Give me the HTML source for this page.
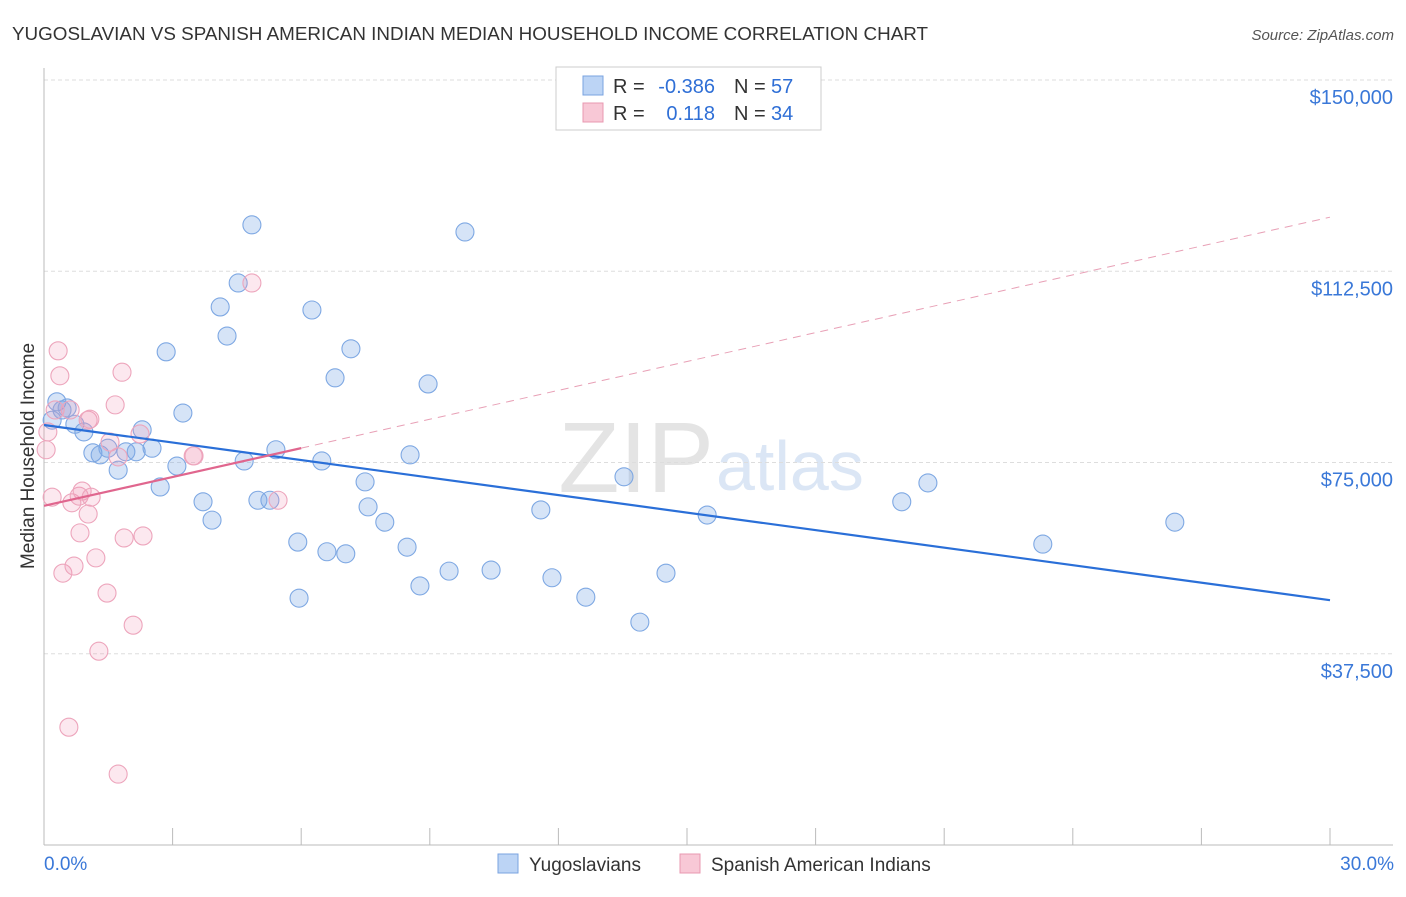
<!DOCTYPE html>
<html><head><meta charset="utf-8"><style>
body{margin:0;background:#fff;font-family:"Liberation Sans",sans-serif}
svg text{font-family:"Liberation Sans",sans-serif}
</style></head><body>
<svg id="c" width="1406" height="892" xmlns="http://www.w3.org/2000/svg">
<text x="12" y="40" font-size="18" fill="#333" textLength="916" lengthAdjust="spacingAndGlyphs">YUGOSLAVIAN VS SPANISH AMERICAN INDIAN MEDIAN HOUSEHOLD INCOME CORRELATION CHART</text>
<text x="1394" y="40" font-size="15" fill="#555" font-style="italic" text-anchor="end">Source: ZipAtlas.com</text>
<text x="714" y="492" font-size="100" fill="#e4e4e4" text-anchor="end" font-family="Liberation Serif">ZIP</text>
<text x="716" y="490" font-size="70" fill="#dbe6f5">atlas</text>
<g id="grid"></g><g id="axes"></g><g id="pts"></g><g id="trend"></g>
<text transform="translate(34,456) rotate(-90)" font-size="19" fill="#333" text-anchor="middle">Median Household Income</text>
<text x="44" y="870" font-size="19" fill="#3a78d8">0.0%</text>
<text x="1394" y="870" font-size="19" fill="#3a78d8" text-anchor="end">30.0%</text>
<g>
<rect x="556" y="67" width="265" height="63" fill="#fff" stroke="#ccc"/>
<rect x="583" y="76" width="20" height="19" fill="#bcd4f5" stroke="#7aa3e0"/>
<rect x="583" y="103" width="20" height="19" fill="#f8c8d6" stroke="#e898b0"/>
<text x="613" y="93" font-size="20" fill="#333">R =</text>
<text x="715" y="93" font-size="20" fill="#2f6fd6" text-anchor="end">-0.386</text>
<text x="734" y="93" font-size="20" fill="#333">N =</text>
<text x="771" y="93" font-size="20" fill="#2f6fd6">57</text>
<text x="613" y="120" font-size="20" fill="#333">R =</text>
<text x="715" y="120" font-size="20" fill="#2f6fd6" text-anchor="end">0.118</text>
<text x="734" y="120" font-size="20" fill="#333">N =</text>
<text x="771" y="120" font-size="20" fill="#2f6fd6">34</text>
</g>
<g>
<rect x="498" y="854" width="20" height="19" fill="#bcd4f5" stroke="#7aa3e0"/>
<text x="529" y="871" font-size="19" fill="#333">Yugoslavians</text>
<rect x="680" y="854" width="20" height="19" fill="#f8c8d6" stroke="#e898b0"/>
<text x="711" y="871" font-size="19" fill="#333">Spanish American Indians</text>
</g>
</svg>
<script>
const yTicks=[37500,75000,112500,150000];
const yTickLabels=["$37,500","$75,000","$112,500","$150,000"];
const xTicks=[0,3,6,9,12,15,18,21,24,27,30];
const blueX=[0.30,0.54,0.72,0.93,1.14,1.31,1.49,1.73,1.91,2.15,2.29,2.52,2.71,2.85,3.10,3.24,3.71,3.92,4.11,4.27,4.53,4.67,4.85,4.99,5.27,5.41,5.92,5.95,6.25,6.48,6.60,6.79,7.04,7.16,7.49,7.56,7.95,8.47,8.54,8.77,8.96,9.45,9.82,10.43,11.59,11.85,12.64,13.53,13.90,14.51,15.47,20.01,20.62,23.30,26.38,0.19,0.42];
const blueY=[86900,85700,82500,81000,76900,76500,77800,73500,77100,77100,81400,77800,70200,96700,74300,84700,67300,63700,105500,99800,110200,75300,121600,67600,67600,77500,59400,48400,104900,75300,57500,91600,57100,97300,71200,66300,63300,58400,76500,50800,90400,53700,120200,53900,65700,52400,48600,72200,43700,53300,64700,67300,71000,59000,63300,83300,85300];
const pinkX=[0.33,0.37,0.09,0.05,0.19,0.44,0.58,0.65,0.70,0.82,0.89,1.03,1.07,1.10,1.03,1.21,1.28,1.47,1.54,1.66,1.73,1.82,1.87,2.08,1.73,2.24,2.31,3.48,3.50,4.85,5.46,0.61,0.26,0.84];
const pinkY=[96900,92000,81000,77500,68200,53300,23100,67100,54700,68400,69400,83300,83500,68200,64900,56300,38000,49400,79000,86300,76100,92700,60200,43100,13900,80600,60600,76300,76300,110200,67600,85300,85300,61200];
const blueTrend=[82350,48000];
const pinkTrend=[66500,123100];
const pinkSolidEnd=6;
const NS="http://www.w3.org/2000/svg";
const X=p=>44+p*(1330-44)/30;
const Y=v=>845-v*765/150000;
function mk(t,a,parent){const e=document.createElementNS(NS,t);for(const k in a)e.setAttribute(k,a[k]);document.getElementById(parent).appendChild(e);return e;}
yTicks.forEach((v,i)=>{
 const g=mk('line',{x1:44,x2:1393,y1:Y(v),y2:Y(v),stroke:'#ddd','stroke-dasharray':'4,3'},'grid');
 
 
 const t=mk('text',{x:1393,y:Y(v)+24,'font-size':20,fill:'#3a78d8','text-anchor':'end'},'grid');
 t.textContent=yTickLabels[i];
 
 
});
const ax=mk('line',{x1:44,x2:1393,y1:845,y2:845,stroke:'#bbb'},'axes');


const ay=mk('line',{x1:44,x2:44,y1:68,y2:845,stroke:'#bbb'},'axes');


xTicks.forEach(p=>{
 const t=mk('line',{x1:X(p),x2:X(p),y1:828,y2:845,stroke:'#bbb'},'axes');
 
 
});
blueX.forEach((p,i)=>{
 const c=mk('circle',{cx:X(p),cy:Y(blueY[i]),r:9,fill:'rgba(120,165,230,0.3)',stroke:'#7ea8e3','stroke-width':1.1},'pts');
 
 
});
pinkX.forEach((p,i)=>{
 const c=mk('circle',{cx:X(p),cy:Y(pinkY[i]),r:9,fill:'rgba(240,150,180,0.22)',stroke:'#eda5bc','stroke-width':1.1},'pts');
 
 
});
const bl=mk('line',{x1:X(0),y1:Y(blueTrend[0]),x2:X(30),y2:Y(blueTrend[1]),stroke:'#2a6fd8','stroke-width':2.2},'trend');


const pm=v=>pinkTrend[0]+(pinkTrend[1]-pinkTrend[0])*v/30;
const pd=mk('line',{x1:X(pinkSolidEnd),y1:Y(pm(pinkSolidEnd)),x2:X(30),y2:Y(pinkTrend[1]),stroke:'#e8a0b6','stroke-width':1,'stroke-dasharray':'8,6'},'trend');


const ps=mk('line',{x1:X(0),y1:Y(pinkTrend[0]),x2:X(pinkSolidEnd),y2:Y(pm(pinkSolidEnd)),stroke:'#e0668e','stroke-width':2.2},'trend');


</script>
</body></html>
